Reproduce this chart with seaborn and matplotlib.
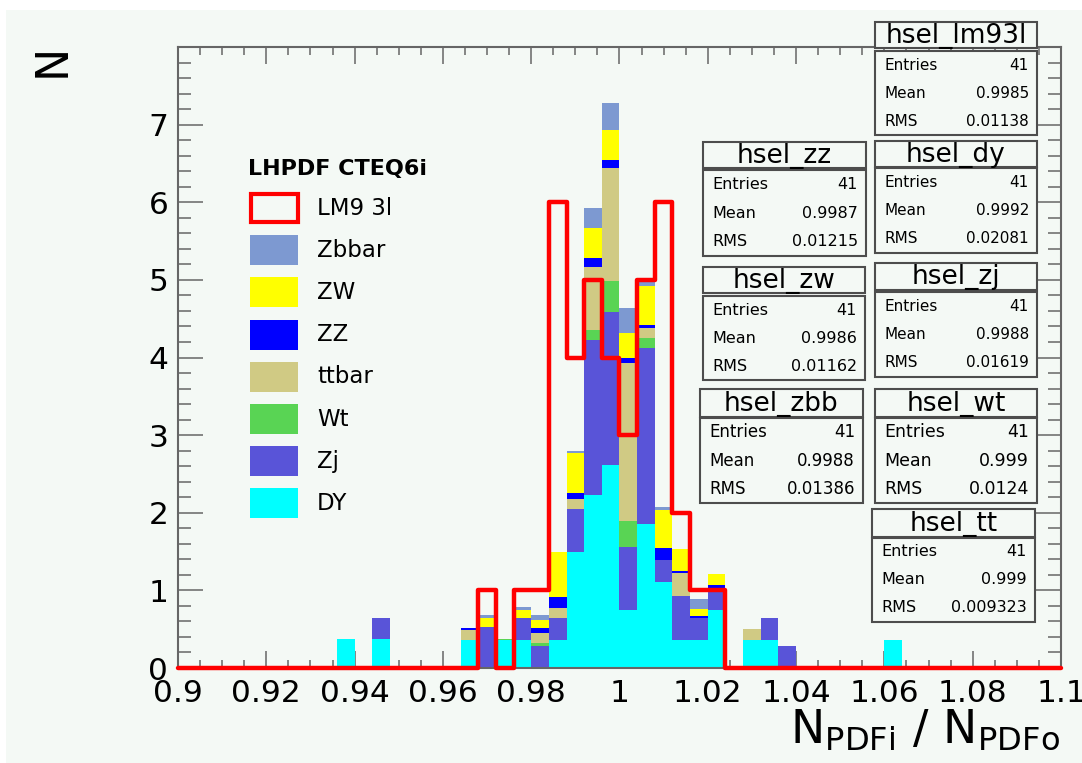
import numpy as np
import pandas as pd
import matplotlib
matplotlib.use("Agg")
import matplotlib.pyplot as plt
import seaborn as sns
from matplotlib.patches import Rectangle
from matplotlib.ticker import FixedLocator, MultipleLocator

# ---------------------------------------------------------------- data
# 50 bins of width 0.004 between 0.9 and 1.1 (weighted events per bin)
x_lo, x_hi, n_bins = 0.9, 1.1, 50

dy = [0, 0, 0, 0, 0, 0, 0, 0, 0, .37,
      0, .37, 0, 0, 0, 0, .36, 0, .36, .36,
      0, .36, 1.49, 2.23, 2.62, .75, 1.86, 1.11, .36, .36,
      .75, 0, .36, .36, 0, 0, 0, 0, 0, 0,
      .36, 0, 0, 0, 0, 0, 0, 0, 0, 0]
zj = [0, 0, 0, 0, 0, 0, 0, 0, 0, 0,
      0, .28, 0, 0, 0, 0, 0, .53, 0, .28,
      .28, .29, .56, 2.00, 1.97, .81, 2.26, .28, .57, .28,
      .28, 0, 0, .28, .28, 0, 0, 0, 0, 0,
      0, 0, 0, 0, 0, 0, 0, 0, 0, 0]
wt = [0, 0, 0, 0, 0, 0, 0, 0, 0, 0,
      0, 0, 0, 0, 0, 0, 0, 0, .02, 0,
      .04, 0, 0, .13, .39, .33, .13, 0, 0, 0,
      0, 0, 0, 0, 0, 0, 0, 0, 0, 0,
      0, 0, 0, 0, 0, 0, 0, 0, 0, 0]
ttbar = [0, 0, 0, 0, 0, 0, 0, 0, 0, 0,
         0, 0, 0, 0, 0, 0, .13, 0, 0, 0,
         .13, .12, .13, .81, 1.46, 2.04, .13, 0, .29, 0,
         0, 0, .14, 0, 0, 0, 0, 0, 0, 0,
         0, 0, 0, 0, 0, 0, 0, 0, 0, 0]
zz = [0, 0, 0, 0, 0, 0, 0, 0, 0, 0,
      0, 0, 0, 0, 0, 0, .03, 0, 0, 0,
      .06, .14, .08, .11, .11, .06, .04, .15, .03, .03,
      .04, 0, 0, 0, 0, 0, 0, 0, 0, 0,
      0, 0, 0, 0, 0, 0, 0, 0, 0, 0]
zw = [0, 0, 0, 0, 0, 0, 0, 0, 0, 0,
      0, 0, 0, 0, 0, 0, 0, .11, 0, .11,
      .11, .58, .51, .39, .38, .33, .50, .50, .28, .09,
      .14, 0, 0, 0, 0, 0, 0, 0, 0, 0,
      0, 0, 0, 0, 0, 0, 0, 0, 0, 0]
zbbar = [0, 0, 0, 0, 0, 0, 0, 0, 0, 0,
         0, 0, .02, 0, 0, 0, 0, .04, 0, .03,
         .06, 0, .03, .26, .35, .32, .07, .03, 0, .13,
         0, 0, 0, 0, 0, 0, 0, 0, 0, 0,
         0, 0, 0, 0, 0, 0, 0, 0, 0, 0]
lm93l = [0, 0, 0, 0, 0, 0, 0, 0, 0, 0,
         0, 0, 0, 0, 0, 0, 0, 1, 0, 1,
         1, 6, 4, 5, 4, 3, 5, 6, 2, 1,
         1, 0, 0, 0, 0, 0, 0, 0, 0, 0,
         0, 0, 0, 0, 0, 0, 0, 0, 0, 0]

# stack order, top of the stack first (seaborn puts the last level at the bottom)
samples = ["Zbbar", "ZW", "ZZ", "ttbar", "Wt", "Zj", "DY"]
sample_values = [zbbar, zw, zz, ttbar, wt, zj, dy]
sample_colors = ["#7d99d1", "#ffff00", "#0000ff", "#d0ca84", "#59d454", "#5954d8", "#00ffff"]
signal_name = "LM9 3l"
legend_title = "LHPDF CTEQ6i"

x_ticks = [0.9, 0.92, 0.94, 0.96, 0.98, 1.0, 1.02, 1.04, 1.06, 1.08, 1.1]
x_tick_labels = ["0.9", "0.92", "0.94", "0.96", "0.98", "1", "1.02", "1.04", "1.06", "1.08", "1.1"]
y_ticks = [0, 1, 2, 3, 4, 5, 6, 7]
y_tick_labels = ["0", "1", "2", "3", "4", "5", "6", "7"]

# statistics panels: name, entries, mean, rms
stats_names = ["hsel_lm93l", "hsel_zz", "hsel_dy", "hsel_zw", "hsel_zj", "hsel_zbb", "hsel_wt", "hsel_tt"]
stats_entries = ["41", "41", "41", "41", "41", "41", "41", "41"]
stats_mean = ["0.9985", "0.9987", "0.9992", "0.9986", "0.9988", "0.9988", "0.999", "0.999"]
stats_rms = ["0.01138", "0.01215", "0.02081", "0.01162", "0.01619", "0.01386", "0.0124", "0.009323"]

# ---------------------------------------------------------------- style
W, H = 1082, 763
PAD = "#f4f9f5"
FRAME = "#666666"
sns.set_theme(style="ticks")
plt.rcParams["font.family"] = ["DejaVu Sans"]
plt.rcParams["mathtext.default"] = "regular"
plt.rcParams["text.color"] = "black"
plt.rcParams["xtick.labelcolor"] = "black"
plt.rcParams["ytick.labelcolor"] = "black"


def fx(px):
    return px / W


def fy(py):
    return 1 - py / H


fig = plt.figure(figsize=(W / 100, H / 100), dpi=100, facecolor="white")
fig.add_artist(Rectangle((fx(6), 0), 1 - fx(6), fy(10), transform=fig.transFigure,
                         facecolor=PAD, edgecolor="none", zorder=-10))
ax = fig.add_axes([fx(178), fy(668), fx(1061) - fx(178), fy(47) - fy(668)])
ax.set_facecolor(PAD)

edges = [float(e) for e in np.linspace(x_lo, x_hi, n_bins + 1)]
centers = [0.5 * (a + b) for a, b in zip(edges[:-1], edges[1:])]

rows = []
for name, vals in zip(samples, sample_values):
    for c, v in zip(centers, vals):
        if v > 0:
            rows.append({"ratio": c, "n": v, "sample": name})
stack_df = pd.DataFrame(rows)

sns.histplot(data=stack_df, x="ratio", weights="n", hue="sample", hue_order=samples,
             palette=dict(zip(samples, sample_colors)), multiple="stack", bins=edges,
             element="bars", alpha=1, linewidth=0, legend=False, ax=ax)

sig_df = pd.DataFrame({"ratio": centers, "n": lm93l})
sns.histplot(data=sig_df, x="ratio", weights="n", bins=edges, element="step", fill=False,
             color="red", linewidth=3.2, ax=ax, clip_on=False, zorder=4)

ax.set_xlim(x_lo, x_hi)
ax.set_ylim(0, 8)
ax.set_xlabel("")
ax.set_ylabel("")

ax.xaxis.set_major_locator(FixedLocator(x_ticks))
ax.set_xticklabels(x_tick_labels)
ax.xaxis.set_minor_locator(MultipleLocator(0.005))
ax.yaxis.set_major_locator(FixedLocator(y_ticks))
ax.set_yticklabels(y_tick_labels)
ax.yaxis.set_minor_locator(MultipleLocator(0.2))

ax.tick_params(axis="x", which="major", direction="in", length=12, width=1.1, color=FRAME,
               top=True, bottom=True, labelsize=22.5, pad=8, labelcolor="black")
ax.tick_params(axis="x", which="minor", direction="in", length=5.5, width=1.1, color=FRAME,
               top=True, bottom=True)
ax.tick_params(axis="y", which="major", direction="in", length=18, width=1.1, color=FRAME,
               left=True, right=True, labelsize=22.5, pad=7, labelcolor="black")
ax.tick_params(axis="y", which="minor", direction="in", length=9.5, width=1.1, color=FRAME,
               left=True, right=True)
for sp in ax.spines.values():
    sp.set_visible(True)
    sp.set_color(FRAME)
    sp.set_linewidth(1.5)

# axis titles
fig.text(fx(1060), fy(743), r"$N_{PDFi}\ /\ N_{PDFo}$", ha="right", va="baseline",
         fontsize=33, color="black")
fig.text(fx(52), fy(60), "N", rotation=90, ha="center", va="center", fontsize=32, color="black")

# ---------------------------------------------------------------- legend
fig.text(fx(248), fy(169), legend_title, fontsize=16, fontweight="bold", va="center",
         color="black", zorder=6)
leg_labels = [signal_name] + samples
leg_colors = [None] + sample_colors
for i, (lab, col) in enumerate(zip(leg_labels, leg_colors)):
    yc = 208 + 42.2 * i
    if col is None:
        patch = Rectangle((fx(251), fy(yc + 14)), fx(47), fy(0) - fy(28), transform=fig.transFigure,
                          facecolor=PAD, edgecolor="red", linewidth=3, zorder=6)
    else:
        patch = Rectangle((fx(250), fy(yc + 15)), fx(48), fy(0) - fy(30), transform=fig.transFigure,
                          facecolor=col, edgecolor="none", zorder=6)
    fig.add_artist(patch)
    fig.text(fx(317), fy(yc), lab, fontsize=16.5, va="center", ha="left", color="black", zorder=7)

# ---------------------------------------------------------------- statistics panels
panel_boxes = [
    (875, 1037, 22, 48, 51, 135, 11),
    (703, 866, 142, 168, 170, 256, 11.5),
    (875, 1037, 141, 167, 168, 253, 11),
    (703, 865, 267, 293, 296, 380, 11.5),
    (875, 1037, 263, 290, 292, 377, 11),
    (700, 863, 389, 417, 418, 503, 12),
    (875, 1037, 389, 417, 418, 503, 12.5),
    (872, 1035, 509, 537, 538, 622, 11.5),
]
for name, ent, mean, rms, box in zip(stats_names, stats_entries, stats_mean, stats_rms, panel_boxes):
    x0, x1, ty0, ty1, sy0, sy1, fs = box
    for (a, b) in [(ty0, ty1), (sy0, sy1)]:
        fig.add_artist(Rectangle((fx(x0), fy(b)), fx(x1) - fx(x0), fy(a) - fy(b),
                                 transform=fig.transFigure, facecolor=PAD,
                                 edgecolor="#4d4d4d", linewidth=1.5, zorder=6))
    fig.text(fx((x0 + x1) / 2), fy((ty0 + ty1) / 2 + 1), name, ha="center", va="center",
             fontsize=19, color="black", zorder=7)
    h = sy1 - sy0
    for j, (lab, val) in enumerate([("Entries", ent), ("Mean", mean), ("RMS", rms)]):
        yc = sy0 + h * (2 * j + 1) / 6
        fig.text(fx(x0 + 9), fy(yc), lab, ha="left", va="center", fontsize=fs,
                 color="black", zorder=7)
        fig.text(fx(x1 - 8), fy(yc), val, ha="right", va="center", fontsize=fs,
                 color="black", zorder=7)

fig.savefig("out.png", dpi=100, facecolor="white")
